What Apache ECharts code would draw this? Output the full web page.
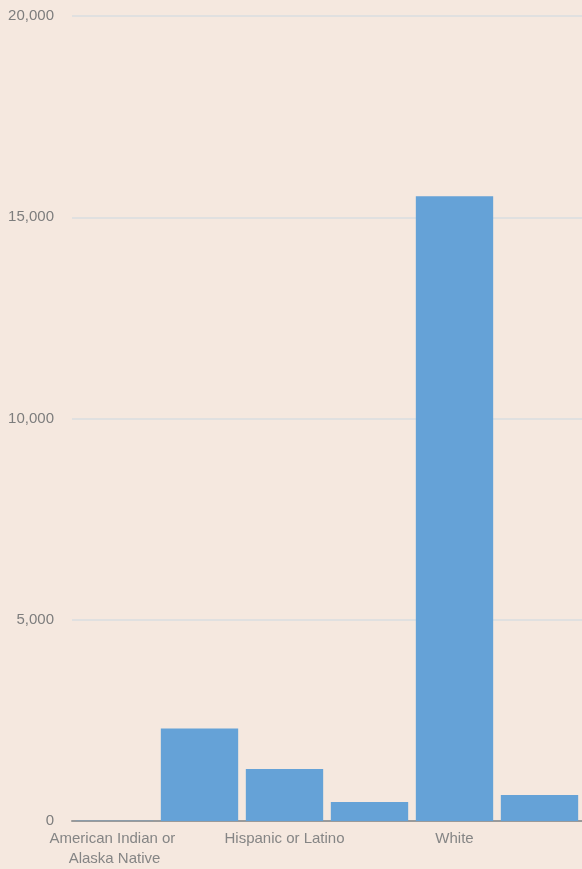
<!DOCTYPE html>
<html>
<head>
<meta charset="utf-8">
<script src="https://cdn.jsdelivr.net/npm/echarts@6/dist/echarts.min.js"></script>
<style>
html,body{margin:0;padding:0;background:#f5e8df;}
#c{width:582px;height:869px;}
</style>
</head>
<body>
<div id="c"></div>
<script>
const categories = ["American Indian or Alaska Native", "Asian", "Hispanic or Latino", "Two or More Races", "White", "Black or African American"];
const values = [6, 2300, 1290, 470, 15520, 645];
const yTicks = [0, 5000, 10000, 15000, 20000];

const chart = echarts.init(document.getElementById('c'));
chart.setOption({
  backgroundColor: '#f5e8df',
  animation: false,
  grid: {left: 72, right: 0, top: 16, bottom: 45, containLabel: false},
  xAxis: {
    type: 'category',
    data: categories,
    axisLine: {lineStyle: {color: '#9a9a9a', width: 2}},
    axisTick: {show: false},
    axisLabel: {
      interval: 1,
      color: '#858585',
      fontSize: 15,
      fontFamily: 'Liberation Sans, Arial, sans-serif',
      width: 160,
      overflow: 'break',
      lineHeight: 20,
      margin: 8
    }
  },
  yAxis: {
    type: 'value',
    min: yTicks[0],
    max: yTicks[yTicks.length - 1],
    interval: 5000,
    axisLine: {show: false},
    axisTick: {show: false},
    splitLine: {lineStyle: {color: '#e0e0e0', width: 2}},
    axisLabel: {
      color: '#7d7d7d',
      fontSize: 15,
      fontFamily: 'Liberation Sans, Arial, sans-serif',
      margin: 18,
      formatter: v => v.toLocaleString('en-US')
    }
  },
  series: [{
    type: 'bar',
    data: values,
    barCategoryGap: '9%',
    itemStyle: {color: '#65a2d7'}
  }]
});
</script>
</body>
</html>
